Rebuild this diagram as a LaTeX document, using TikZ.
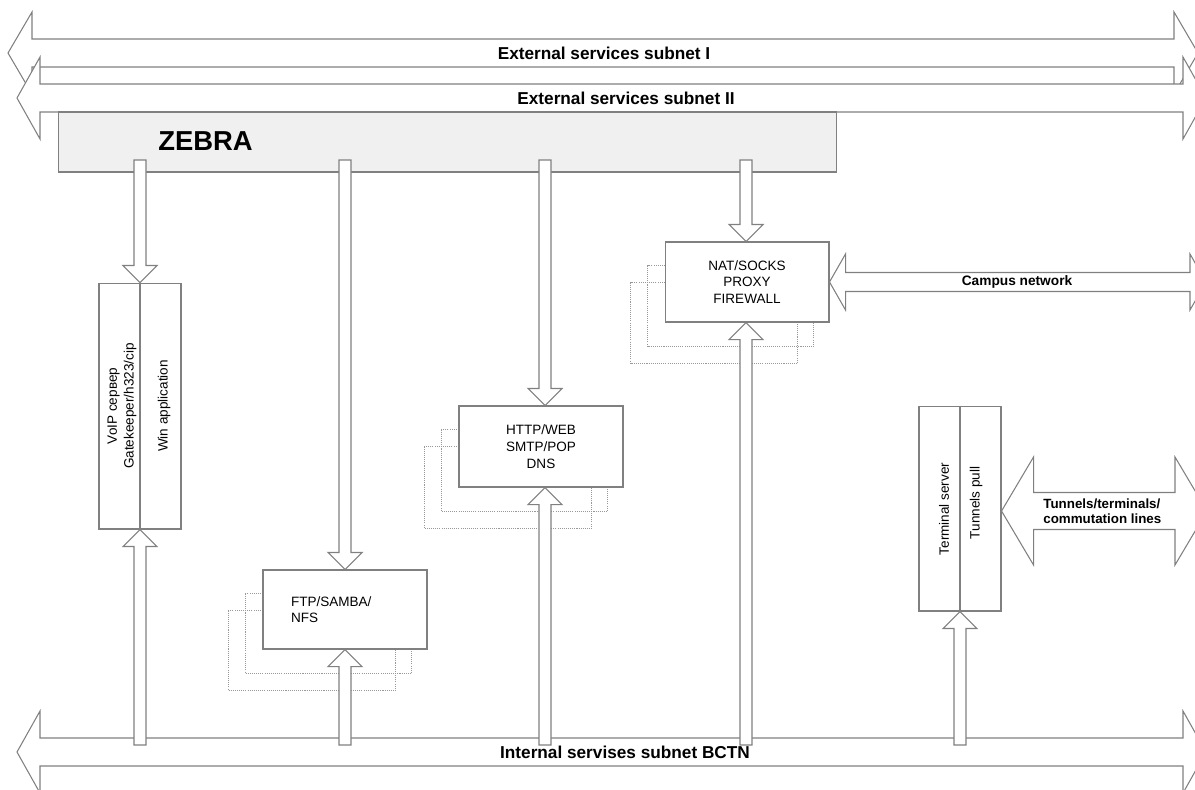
\documentclass[tikz,border=0pt]{standalone}
\usepackage{fontspec}
\setmainfont{Liberation Sans}
\usepackage{tikz}
\usetikzlibrary{calc,backgrounds,positioning}
\tikzstyle{box}=[draw=gray, fill=white, line width=0.6pt, inner sep=0pt, align=center, font=\fontsize{7.7}{9.6}\selectfont]
\tikzstyle{blk}=[draw=gray, fill=white, line width=0.6pt, line join=miter]
\tikzstyle{shd}=[draw=gray!80, dash pattern=on 0.6pt off 0.6pt, line width=0.5pt]
\tikzstyle{txt}=[inner sep=0pt, align=center, font=\fontsize{7.7}{9.6}\selectfont]
\tikzstyle{lbl}=[inner sep=0pt, font=\bfseries\fontsize{9.8}{12}\selectfont]
\tikzstyle{sml}=[inner sep=0pt, align=left, font=\bfseries\fontsize{7.6}{8.6}\selectfont]

\newcommand{\hbus}[5]{\draw[blk] (#1) -- ++(#5,-#4) -- ++(0,#4-#3) -- ($(#2)+(-#5,-#3)$) -- ++(0,#3-#4) -- (#2) -- ++(-#5,#4) -- ++(0,#3-#4) -- ($(#1)+(#5,#3)$) -- ++(0,#4-#3) -- cycle;}
\newcommand{\vdn}[2]{\draw[blk] ($(#1)+(-6,0)$) -- ($(#1|-#2.north)+(-6,-17)$) -- ++(-11,0) -- (#1|-#2.north) -- ++(17,-17) -- ++(-11,0) -- ($(#1)+(6,0)$) -- cycle;}
\newcommand{\vup}[2]{\draw[blk] ($(#1)+(-6,0)$) -- ($(#1|-#2.south)+(-6,17)$) -- ++(-11,0) -- (#1|-#2.south) -- ++(17,17) -- ++(-11,0) -- ($(#1)+(6,0)$) -- cycle;}
\newcommand{\boxshd}[1]{\draw[shd] ($(#1.north west)+(-17,24)$) rectangle ($(#1.south east)+(-16,24)$); \draw[shd] ($(#1.north west)+(-34,41)$) rectangle ($(#1.south east)+(-32,41)$);}

\begin{document}
\begin{tikzpicture}[x=0.02cm, y=-0.02cm]
	\useasboundingbox (0,0) rectangle (1195,789);
	\clip (0,0) rectangle (1195,789);
	
	\coordinate (s1l) at (8,53);
	\coordinate (s1r) at (1198,53);
	\coordinate (s2l) at (17,98);
	\coordinate (s2r) at (1206,98);
	\coordinate (bl) at (17,752);
	\coordinate (br) at (1206,752);
	\coordinate (cr) at (1206,282);
	\coordinate (tr) at (1207,511);
	
	\hbus{s1l}{s1r}{14}{41}{24}
	\hbus{s2l}{s2r}{14}{41}{23}
	\hbus{bl}{br}{14}{41}{23}
	\node[lbl] (subI) at (604,53) {External services subnet I};
	\node[lbl] (subII) at (626,98) {External services subnet II};
	\node[lbl] (bctn) at (625,752) {Internal servises subnet BCTN};
	
	\node[draw=gray, fill=gray!12, line width=0.6pt, minimum width=15.58cm, minimum height=1.2cm, inner sep=0pt] (zebra) at (447.5,142) {};
	\node[inner sep=0pt, anchor=west, font=\bfseries\fontsize{15.6}{18}\selectfont] (zlbl) at (158,141) {ZEBRA};
	
	\node[box, minimum width=1.64cm, minimum height=4.92cm] (voip) at (140,406) {};
	\draw[gray, line width=0.6pt] (voip.north) -- (voip.south);
	\node[txt, rotate=90] (voipa) at (122,406) {VoIP сервер\\Gatekeeper/h323/cip};
	\node[txt, rotate=90] (voipb) at (164,406) {Win application};
	
	\node[box, text width=2.16cm, inner xsep=0.56cm, minimum height=1.58cm, align=left, font=\fontsize{7.7}{8.8}\selectfont] (ftp) at (345,609.5) {FTP/SAMBA/\\NFS};
	\node[box, minimum width=3.28cm, minimum height=1.62cm] (http) at (541,446.5) {HTTP/WEB\\SMTP/POP\\DNS};
	\node[box, minimum width=3.28cm, minimum height=1.6cm] (nat) at (747,282) {NAT/SOCKS\\PROXY\\FIREWALL};
	
	\node[box, minimum width=1.64cm, minimum height=4.1cm] (term) at (960,508.5) {};
	\draw[gray, line width=0.6pt] (term.north) -- (term.south);
	\node[txt, rotate=90] (terma) at (944,509) {Terminal server};
	\node[txt, rotate=90] (termb) at (976,503) {Tunnels pull};
	
	\begin{scope}[on background layer]
		\boxshd{ftp}
		\boxshd{http}
		\boxshd{nat}
	\end{scope}
	
	\hbus{nat.east}{cr}{9.5}{28}{16}
	\hbus{term.east |- tr}{tr}{18.5}{54}{32}
	\node[inner sep=0pt, font=\bfseries\fontsize{7.8}{9.4}\selectfont] (camp) at (1017,282) {Campus network};
	\node[sml, anchor=west] (tun) at (1043,511) {Tunnels/terminals/\\commutation lines};
	
	\coordinate (d1) at (140,160);
	\coordinate (d2) at (345,160);
	\coordinate (d3) at (545,160);
	\coordinate (d4) at (746,160);
	\coordinate (u1) at (140,745);
	\coordinate (u2) at (345,745);
	\coordinate (u3) at (545,745);
	\coordinate (u4) at (746,745);
	\coordinate (u5) at (960,745);
	
	\vdn{d1}{voip}
	\vdn{d2}{ftp}
	\vdn{d3}{http}
	\vdn{d4}{nat}
	\vup{u1}{voip}
	\vup{u2}{ftp}
	\vup{u3}{http}
	\vup{u4}{nat}
	\vup{u5}{term}
\end{tikzpicture}
\end{document}
